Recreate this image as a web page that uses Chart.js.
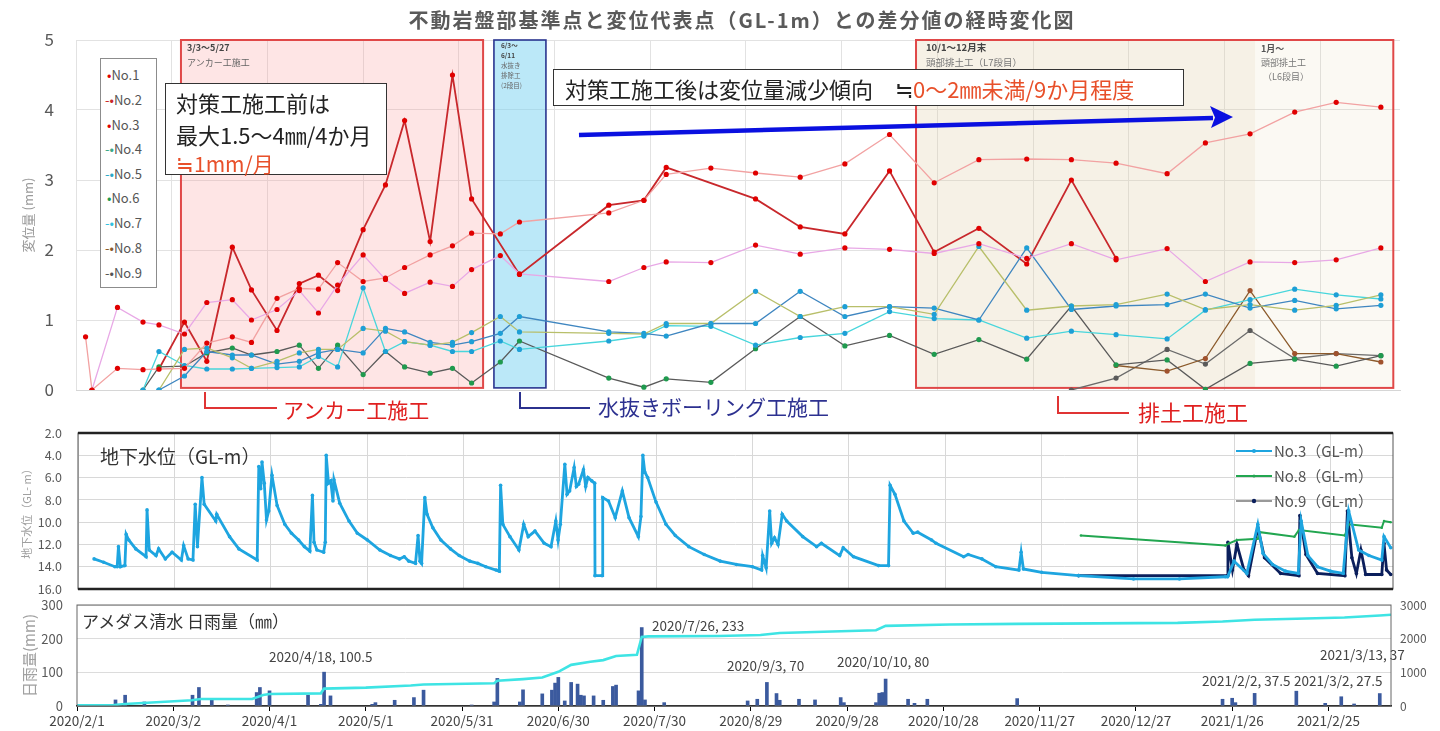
<!DOCTYPE html>
<html><head><meta charset="utf-8">
<script src="https://cdn.jsdelivr.net/npm/chart.js@4.4.1/dist/chart.umd.min.js"></script>
<style>
html,body{margin:0;padding:0;background:#fff;}
#wrap{position:relative;width:1440px;height:731px;overflow:hidden;font-family:"Noto Sans CJK JP","Noto Sans",sans-serif;}
canvas{position:absolute;left:0;}
.t{position:absolute;white-space:nowrap;z-index:5;line-height:1;}
svg{position:absolute;left:0;top:0;z-index:4;pointer-events:none;}
</style></head><body><div id="wrap">
<canvas id="c1" width="1440" height="430" style="top:0;width:1440px;height:430px"></canvas>
<canvas id="c2" width="1440" height="220" style="top:400px;width:1440px;height:220px"></canvas>
<canvas id="c3" width="1440" height="161" style="top:570px;width:1440px;height:161px"></canvas>

<svg width="1440" height="731">
  <line x1="579" y1="135" x2="1213" y2="118" stroke="#0a10e0" stroke-width="4.5"/>
  <polygon points="1233,117 1210,106 1215,117.5 1211,128" fill="#0a10e0"/>
  <path d="M205,392 V408 H277" fill="none" stroke="#e03434" stroke-width="2"/>
  <path d="M520,392 V408 H590" fill="none" stroke="#2b318e" stroke-width="2"/>
  <path d="M1058,396 V413 H1129" fill="none" stroke="#e03434" stroke-width="2"/>
  <line x1="1236" y1="451" x2="1272" y2="451" stroke="#1ea5e0" stroke-width="2"/><circle cx="1254" cy="451" r="2" fill="#1ea5e0"/>
  <line x1="1236" y1="476" x2="1272" y2="476" stroke="#22a650" stroke-width="2"/><circle cx="1254" cy="476" r="1.5" fill="#22a650"/>
  <line x1="1236" y1="501" x2="1272" y2="501" stroke="#999" stroke-width="2"/><circle cx="1254" cy="501" r="2.2" fill="#0b1f5c"/>
</svg>

<div class="t" style="left:742px;top:10px;transform:translateX(-50%);font-size:20px;font-weight:600;letter-spacing:2px;color:#5a5a5a">不動岩盤部基準点と変位代表点（GL-1m）との差分値の経時変化図</div>

<div style="position:absolute;left:100px;top:58px;width:55px;height:228px;border:1.5px solid #8c8c8c;background:#fff;z-index:5;font-size:13px;color:#555">
  <div class="t" style="left:6px;top:9px"><span style="color:#e00000">•</span>No.1</div>
  <div class="t" style="left:4px;top:34px"><span style="color:#c8282c">-•</span>No.2</div>
  <div class="t" style="left:6px;top:59px"><span style="color:#e00000">•</span>No.3</div>
  <div class="t" style="left:4px;top:83px"><span style="color:#3aa888">-•</span>No.4</div>
  <div class="t" style="left:4px;top:108px"><span style="color:#2aa8c8">-•</span>No.5</div>
  <div class="t" style="left:6px;top:132px"><span style="color:#1f9a4e">•</span>No.6</div>
  <div class="t" style="left:4px;top:157px"><span style="color:#30c0e0">-•</span>No.7</div>
  <div class="t" style="left:4px;top:182px"><span style="color:#8b5a2b">-•</span>No.8</div>
  <div class="t" style="left:4px;top:207px"><span style="color:#555">-•</span>No.9</div>
</div>

<div class="t" style="left:187px;top:43px;font-size:9px;font-weight:700;color:#444">3/3〜5/27</div>
<div class="t" style="left:187px;top:58px;font-size:9px;color:#666">アンカー工施工</div>

<div class="t" style="left:501px;top:40px;font-size:6.5px;line-height:10px;color:#444;font-weight:600">6/3〜<br>6/11<br><span style="font-weight:400;color:#666">水抜き<br>排除工<br>(2段目)</span></div>

<div class="t" style="left:926px;top:43px;font-size:9.5px;font-weight:700;color:#444">10/1〜12月末</div>
<div class="t" style="left:926px;top:58px;font-size:9.5px;color:#777">頭部排土工（L7段目）</div>
<div class="t" style="left:1261px;top:44px;font-size:9px;color:#555;font-weight:600">1月〜</div>
<div class="t" style="left:1261px;top:58px;font-size:9px;color:#777">頭部排土工</div>
<div class="t" style="left:1263px;top:72px;font-size:9px;color:#777">（L6段目）</div>

<div style="position:absolute;left:165px;top:83px;width:220px;height:90px;border:1.5px solid #333;background:#fff;z-index:5"></div>
<div class="t" style="left:176px;top:91px;font-size:22px;color:#222">対策工施工前は</div>
<div class="t" style="left:176px;top:123px;font-size:22px;color:#222">最大1.5〜4㎜/4か月</div>
<div class="t" style="left:176px;top:153px;font-size:21px;color:#e8502a">≒1mm/月</div>

<div style="position:absolute;left:553px;top:69px;width:629px;height:35px;border:1.5px solid #333;background:#fff;z-index:5"></div>
<div class="t" style="left:565px;top:77px;font-size:22px;color:#222">対策工施工後は変位量減少傾向　≒<span style="color:#e8502a">0〜2㎜未満/9か月程度</span></div>

<div class="t" style="left:283px;top:399px;font-size:21px;color:#e02020">アンカー工施工</div>
<div class="t" style="left:598px;top:396px;font-size:21px;color:#2d3190">水抜きボーリング工施工</div>
<div class="t" style="left:1138px;top:400px;font-size:22px;color:#e02020">排土工施工</div>

<div class="t" style="left:100px;top:446px;font-size:19px;color:#333">地下水位（GL-m）</div>
<div class="t" style="left:1274px;top:443px;font-size:15px;color:#555">No.3（GL-m）</div>
<div class="t" style="left:1274px;top:468px;font-size:15px;color:#555">No.8（GL-m）</div>
<div class="t" style="left:1274px;top:493px;font-size:15px;color:#555">No.9（GL-m）</div>

<div class="t" style="left:82px;top:612px;font-size:17px;color:#333">アメダス清水 日雨量（㎜）</div>
<div class="t" style="left:269px;top:650px;font-size:13.5px;color:#444">2020/4/18, 100.5</div>
<div class="t" style="left:652px;top:619px;font-size:13.5px;color:#444">2020/7/26, 233</div>
<div class="t" style="left:727px;top:659px;font-size:13.5px;color:#444">2020/9/3, 70</div>
<div class="t" style="left:837px;top:655px;font-size:13.5px;color:#444">2020/10/10, 80</div>
<div class="t" style="left:1202px;top:674px;font-size:13.5px;color:#444">2021/2/2, 37.5</div>
<div class="t" style="left:1294px;top:674px;font-size:13.5px;color:#444">2021/3/2, 27.5</div>
<div class="t" style="left:1320px;top:648px;font-size:13.5px;color:#444">2021/3/13, 37</div>
</div>

<script>
// ---------- data: displacement (days since 2020/2/1) ----------
const dispDays = [3,5,13,21,26,34,41,49,55,63, 70,76,82,90,97,103,111,118,124,133, 139,167,178,185,199,213,227,241,255,269, 283,298,312,326,342,354,368,382,395,409];
const no1 = [0.76,0,0.31,0.29,0.30,0.31,0.67,0.76,0.68,1.31, 1.45,1.44,1.82,1.55,1.6,1.75,1.93,2.06,2.24,2.23, 2.4,2.53,2.71,3.08,3.17,3.1,3.04,3.23,3.65,2.96, 3.29,3.3,3.29,3.24,3.09,3.53,3.66,3.97,4.11,4.04];
const no2 = [null,null,null,null,0.3,0.97,0.41,2.04,1.43,0.85, 1.52,1.64,1.42,2.29,2.93,3.85,2.12,4.5,2.73,null, 1.65,2.64,2.71,3.18,null,2.73,2.33,2.23,3.13,1.97, 2.31,1.8,3.0,1.88,null,null,null,null,null,null];
const no3 = [null,0,1.18,0.97,0.93,0.8,1.25,1.29,1.0,1.15, 1.42,1.1,1.5,1.93,1.58,1.38,1.54,1.48,1.72,1.92, 1.66,1.55,1.75,1.83,1.82,2.07,1.94,2.03,2.01,1.95, 2.09,1.88,2.09,1.86,2.02,1.55,1.83,1.82,1.86,2.03];
const no4 = [null,null,null,null,0,0.58,0.6,0.46,0.31,0.41, 0.53,0.58,0.58,0.88,0.84,0.69,0.64,0.68,0.82,1.05, 0.83,0.81,0.8,0.95,0.95,1.41,1.05,1.19,1.19,1.08, 2.05,1.14,1.2,1.22,1.37,1.15,1.22,1.14,1.21,1.36];
const no5 = [null,null,null,null,0,0.2,0.55,0.5,0.5,0.37, 0.41,0.53,0.58,0.53,0.88,0.83,0.68,0.64,0.69,0.81, 1.05,0.83,0.81,0.77,0.95,0.95,1.41,1.05,1.19,1.17, 1.0,2.03,1.15,1.2,1.22,1.37,1.17,1.28,1.16,1.21];
const no6 = [null,null,null,0,0.33,0.34,0.53,0.6,0.5,0.55, 0.64,0.31,0.64,0.22,0.55,0.33,0.24,0.31,0.1,0.4, 0.7,0.17,0.04,0.16,0.11,0.59,1.05,0.63,0.78,0.51, 0.72,0.44,1.2,0.36,0.43,0.01,0.38,0.44,0.34,0.49];
const no7 = [null,null,null,0,0.55,0.35,0.3,0.3,0.31,0.32, 0.33,0.48,0.33,1.46,0.55,0.69,0.64,0.55,0.55,0.7, 0.58,0.7,0.77,0.92,0.91,0.64,0.75,0.81,1.12,1.02, 1.0,0.74,0.84,0.79,0.73,1.14,1.29,1.44,1.36,1.3];
const no8 = [null,null,null,null,null,null,null,null,null,null, null,null,null,null,null,null,null,null,null,null, null,null,null,null,null,null,null,null,null,null, null,null,null,0.35,0.27,0.45,1.42,0.52,0.52,0.4];
const no9 = [null,null,null,null,null,null,null,null,null,null, null,null,null,null,null,null,null,null,null,null, null,null,null,null,null,null,null,null,null,null, null,null,0,0.17,0.58,0.37,0.85,0.45,0.52,0.49];
// construction periods (days)
const phaseStart = [32.9, 131, 263.3];
const phaseEnd = [127.6, 147.3, 412.9];
const subPhaseStart = 369.6;

// ---------- data: groundwater level (GL-m) ----------
const gw3Day = [5,8,11.5,12.2,12.6,13.2,14.6,15.0,15.8,18, 21.2,21.5,22.2,24.3,25.1,27.2,29.3,32.2,32.9,34.3, 35.8,36.5,37.2,38.6,39.3,42.9,43.2,47.2,50.1,55.8, 56.3,56.9,57.3,58.0,58.7,59.4,60.4,62.0,64.4,66.5, 68.7,70.5,72.2,73.0,73.5,74.4,76.5,77.0,77.3,78.0, 78.7,79.4,79.7,81.5,84.4,87,90.1,94,97.3,100.1, 101.6,103,105.1,105.9,106.5,107.0,108.0,108.7,110.5,113, 116,118.7,122,124.5,127,130.2,131.2,131.6,132.3,134.5, 137.3,138.8,140.2,142.3,145.2,147.3,148.8,149.5,150.2,151.6, 152.3,153.1,154.5,155.2,155.9,157.4,158.1,158.8,160,160.9, 161.0,163.2,163.4,165.2,167.3,169.5,171.6,174.5,175.3,175.9, 176.5,177.4,180,183.1,186,190.2,195,200,205,210, 212.9,213.2,214.3,215.4,216,216.9,218,219.3,220.7,225.7, 230,231.5,237.2,238.3,241.5,249.3,252.4,252.9,254.4,257.2, 260.1,261.5,265.8,267.2,275.8,277.2,281.5,285.8,293,293.7, 294.4,300.1,311.6,328.7,343,357.3,358,360,364,367.4, 369,372,376,380,380.9,383,386,390,394,395.7, 398.8,402,406,406.7,408.8];
const gw3Level = [13.3,13.6,14.0,14.0,12.2,14.0,13.9,11.1,11.6,12.4, 13.1,8.9,12.5,13.0,12.4,13.3,12.7,13.4,12.1,13.3, 13.4,8.4,12.2,6.0,8.4,9.9,9.3,11.3,12.4,13.4, 5.0,7.0,4.6,6.5,9.8,9.0,5.8,8.5,10.2,11.0, 11.6,12.2,12.6,7.6,11.8,12.5,12.7,11.8,4.0,6.5, 6.3,8.1,6.2,8.3,9.9,11.0,11.6,12.5,13.0,13.3, 13.1,13.5,13.7,11.2,13.5,13.7,7.8,9.3,10.5,11.6, 12.4,13.0,13.5,13.7,14.0,14.3,14.4,6.7,10.2,11.3, 12.5,10.2,11.3,10.8,11.9,12.2,9.9,11.6,10.2,4.8, 7.5,7.2,5.1,6.8,6.6,5.3,6.8,6.0,6.3,6.5, 14.8,14.8,7.8,8.1,9.6,7.2,9.6,11.3,9.5,4.0, 5.5,6.0,8.2,10.2,11.2,12.2,12.9,13.5,13.8,14.0, 14.3,13.0,14.1,9.0,11.9,11.4,12.0,9.3,9.9,11.3, 12.2,11.9,13.0,12.3,13.1,13.9,13.9,6.7,7.5,9.9, 11.0,10.9,11.6,11.9,13.1,12.9,13.3,14.0,14.3,12.7, 14.2,14.5,14.8,15.1,15.1,14.9,14.9,13.5,14.6,10.2, 12.8,13.8,14.4,14.6,9.9,13.0,14.0,14.4,14.6,9.0, 12.5,13.0,13.4,11.3,12.3];
const gw8Day = [312.3,357.3,358.5,360.9,367.4,368.1,378.8,380.2,394.5,395.7,406,406.7,408.8];
const gw8Level = [11.2,12.1,11.9,11.6,11.5,10.9,11.3,10.7,11.2,10.2,10.5,9.9,10.0];
const gw9Day = [311.6,358.0,358.1,359.5,360.9,363.1,364.5,367.4,369.5,374.5,380.2,380.5,382.4,386,394.5,395.3,396.7,398.1,399.5,401,406,406.7,407.5,408.8];
const gw9Level = [14.8,14.8,11.8,14.3,12.0,14.3,14.8,10.5,13.2,14.6,14.8,9.4,12.9,14.6,14.8,9.0,13.2,14.6,12.5,14.7,14.7,11.9,14.3,14.7];

// ---------- data: rainfall ----------
const rainDay = [12,15,21,36,38,42,47,56,57,60, 72,76,77,79,92,93,99,105,108,123, 130,131,138,139,145,148,149,150,152,154, 156,157,158,161,164,167,168,175,176,177, 183,209,212,215,218,219,225,230,238,239, 249,250,251,252,259,261,265,293,357,360, 361,367,380,389,394,398,406];
const rainMm = [18,32,12,32,55,17,3,40,55,45, 32,5,100.5,30,5,10,17,25,47,3, 12,82,12,48,36,47,68,85,15,70, 65,32,30,30,17,58,62,45,233,18, 10,15,20,70,37,17,20,18,25,10, 10,38,40,80,20,8,20,22,20,23, 10,37.5,44,8,27.5,6,37];
const cumDay = [0,11.5,15,35.8,38.6,54.6,58,60,76,77, 90,104,108,130,131,139,145,150,154,160, 164,168,174.5,176,178,200,213,219,249,252, 272,293,343,357,367,380,395,406,409.5];
const cumMm = [20,30,60,170,207,210,329,357,376,517, 545,611,639,677,752,799,846,1015,1222,1316, 1363,1485,1523,2049,2068,2080,2110,2170,2250,2380, 2420,2440,2470,2510,2560,2590,2630,2690,2710];

// ---------- helpers ----------
const F = "'Noto Sans CJK JP','Noto Sans',sans-serif";
Chart.defaults.font.family = F;
const START = Date.UTC(2020,1,1);
function dayLabel(d){const t=new Date(START+d*86400000);return t.getUTCFullYear()+'/'+(t.getUTCMonth()+1)+'/'+t.getUTCDate();}
const xy = (xs,ys)=>xs.map((x,i)=>({x:x,y:ys[i]})).filter(p=>p.y!==null && p.y!==undefined);

// ---------- chart 1: displacement ----------
const phasePlugin = {
  id:'phases',
  beforeDatasetsDraw(chart){
    const {ctx, scales:{x,y}} = chart;
    const yt = y.getPixelForValue(5), yb = y.getPixelForValue(0.03);
    const px = d => x.getPixelForValue(d);
    ctx.save();
    ctx.fillStyle='rgba(222,205,165,0.28)';
    ctx.fillRect(px(phaseStart[2]), yt, px(subPhaseStart)-px(phaseStart[2]), yb-yt);
    ctx.fillStyle='rgba(222,205,165,0.13)';
    ctx.fillRect(px(subPhaseStart), yt, px(phaseEnd[2])-px(subPhaseStart), yb-yt);
    ctx.fillStyle='rgba(250,150,150,0.25)';
    ctx.fillRect(px(phaseStart[0]), yt, px(phaseEnd[0])-px(phaseStart[0]), yb-yt);
    ctx.fillStyle='rgba(120,210,242,0.5)';
    ctx.fillRect(px(phaseStart[1]), yt, px(phaseEnd[1])-px(phaseStart[1]), yb-yt);
    ctx.lineWidth=2; ctx.strokeStyle='#e04848';
    ctx.strokeRect(px(phaseStart[0]), yt, px(phaseEnd[0])-px(phaseStart[0]), yb-yt);
    ctx.strokeRect(px(phaseStart[2]), yt, px(phaseEnd[2])-px(phaseStart[2]), yb-yt);
    ctx.lineWidth=1.6; ctx.strokeStyle='#2a3590';
    ctx.strokeRect(px(phaseStart[1]), yt, px(phaseEnd[1])-px(phaseStart[1]), yb-yt);
    ctx.restore();
  }
};
const seriesStyle = [
  ['No.1', no1, '#f2a2a2', '#e00000', 1.3],
  ['No.3', no3, '#e8a8e6', '#e00000', 1.3],
  ['No.4', no4, '#b8bf6a', '#1e9fd6', 1.3],
  ['No.5', no5, '#3f86c0', '#1e9fd6', 1.3],
  ['No.7', no7, '#48d6dc', '#1e9fd6', 1.3],
  ['No.6', no6, '#5a5a5a', '#1f9a4e', 1.3],
  ['No.8', no8, '#8b5a2b', '#a0522d', 1.3],
  ['No.9', no9, '#6b6b6b', '#5a5a5a', 1.3],
  ['No.2', no2, '#c8282c', '#e00000', 1.8]
];
new Chart(document.getElementById('c1'), {
  type:'line',
  data:{datasets: seriesStyle.map(s=>({
    label:s[0], data:xy(dispDays,s[1]), borderColor:s[2], backgroundColor:s[3],
    pointBackgroundColor:s[3], pointBorderWidth:0, pointRadius:2.6, borderWidth:s[4], tension:0
  }))},
  options:{
    responsive:false, animation:false, devicePixelRatio:1,
    layout:{padding:{left:20,right:40,top:40,bottom:40}},
    plugins:{legend:{display:false},tooltip:{enabled:false}},
    scales:{
      x:{type:'linear',min:0,max:415,ticks:{display:false,stepSize:30,includeBounds:false},
         grid:{color:'#e2e2e2',drawTicks:false},border:{color:'#d6d6d6'},afterFit:s=>{s.height=0;}},
      y:{min:0,max:5,ticks:{stepSize:1,padding:22,color:'#595959',font:{size:17}},
         grid:{color:'#e2e2e2',drawTicks:false},border:{display:false},
         title:{display:true,text:'変位量 (mm)',color:'#9a9a9a',font:{size:13},padding:0},
         afterFit:s=>{s.width=56;}}
    }
  },
  plugins:[phasePlugin]
});

// ---------- chart 2: groundwater ----------
const frame2 = {
  id:'frame2',
  afterDraw(chart){
    const {ctx, chartArea:a} = chart;
    ctx.save();
    ctx.strokeStyle='#555'; ctx.lineWidth=1;
    ctx.strokeRect(a.left, a.top, a.right-a.left, a.bottom-a.top);
    ctx.strokeStyle='#222'; ctx.lineWidth=2.5;
    ctx.beginPath(); ctx.moveTo(a.left,a.top); ctx.lineTo(a.right,a.top);
    ctx.moveTo(a.left,a.bottom); ctx.lineTo(a.right,a.bottom); ctx.stroke();
    ctx.restore();
  }
};
new Chart(document.getElementById('c2'), {
  type:'line',
  data:{datasets:[
    {label:'No.3（GL-m）', data:xy(gw3Day,gw3Level), borderColor:'#1ea5e0', pointBackgroundColor:'#1ea5e0', pointBorderWidth:0, pointRadius:1.8, borderWidth:2.8, tension:0},
    {label:'No.8（GL-m）', data:xy(gw8Day,gw8Level), borderColor:'#22a650', pointBackgroundColor:'#22a650', pointBorderWidth:0, pointRadius:1.2, borderWidth:2, tension:0},
    {label:'No.9（GL-m）', data:xy(gw9Day,gw9Level), borderColor:'#0b1f5c', pointBackgroundColor:'#0b1f5c', pointBorderWidth:0, pointRadius:1.8, borderWidth:2.8, tension:0}
  ]},
  options:{
    responsive:false, animation:false, devicePixelRatio:1,
    layout:{padding:{left:20,right:47,top:33,bottom:31}},
    plugins:{legend:{display:false},tooltip:{enabled:false}},
    scales:{
      x:{type:'linear',min:0,max:409.5,ticks:{display:false,stepSize:30,includeBounds:false},
         grid:{color:'#d8d8d8',drawTicks:false},border:{display:false},afterFit:s=>{s.height=0;}},
      y:{reverse:true,min:2,max:16,ticks:{stepSize:2,padding:16,color:'#595959',font:{size:12.5},callback:v=>Number(v).toFixed(1)},
         grid:{color:'#d8d8d8',drawTicks:false},border:{display:false},
         title:{display:true,text:'地下水位（GL- m）',color:'#a0a0a0',font:{size:11},padding:0},
         afterFit:s=>{s.width=58;}}
    }
  },
  plugins:[frame2]
});

// ---------- chart 3: rainfall ----------
const frame3 = {
  id:'frame3',
  afterDraw(chart){
    const {ctx, chartArea:a} = chart;
    ctx.save(); ctx.strokeStyle='#666'; ctx.lineWidth=1;
    ctx.strokeRect(a.left, a.top, a.right-a.left, a.bottom-a.top);
    ctx.restore();
  }
};
new Chart(document.getElementById('c3'), {
  type:'bar',
  data:{datasets:[
    {type:'line', label:'累積雨量', data:xy(cumDay,cumMm), yAxisID:'y1', borderColor:'#3ee4e4', borderWidth:2.6, pointRadius:0, tension:0, order:0},
    {type:'bar', label:'日雨量', data:xy(rainDay,rainMm), yAxisID:'y', backgroundColor:'#3b5a9e', barThickness:3, order:1}
  ]},
  options:{
    responsive:false, animation:false, devicePixelRatio:1,
    layout:{padding:{left:20,right:4,top:35,bottom:0}},
    plugins:{legend:{display:false},tooltip:{enabled:false}},
    scales:{
      x:{type:'linear',offset:false,min:0,max:409.5,
         ticks:{stepSize:30,includeBounds:false,padding:2,color:'#444',font:{size:13.5},maxRotation:0,autoSkip:false,callback:v=>dayLabel(v)},
         grid:{offset:false,drawOnChartArea:false,drawTicks:true,tickLength:5,color:'#000'},
         border:{color:'#000',width:1.5},afterFit:s=>{s.height=25;}},
      y:{position:'left',min:0,max:300,ticks:{stepSize:100,padding:14,color:'#595959',font:{size:13}},
         grid:{color:'#dcdcdc',drawTicks:false},border:{display:false},
         title:{display:true,text:'日雨量(mm)',color:'#a0a0a0',font:{size:15},padding:0},
         afterFit:s=>{s.width=57;}},
      y1:{position:'right',min:0,max:3000,ticks:{stepSize:1000,padding:9,color:'#595959',font:{size:12},callback:v=>String(v)},
         grid:{drawOnChartArea:false,drawTicks:false},border:{display:false},afterFit:s=>{s.width=45;}}
    }
  },
  plugins:[frame3]
});
</script>
</body></html>
